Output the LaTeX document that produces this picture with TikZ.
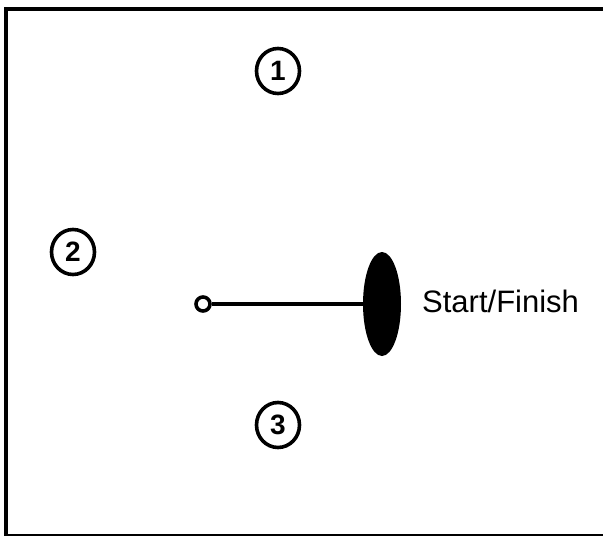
\documentclass[tikz,border=0pt]{standalone}
\usepackage{fontspec}
\setmainfont{Liberation Sans}
\usetikzlibrary{shapes.geometric}

\begin{document}
\begin{tikzpicture}[x=1pt,y=-1pt,
    station/.style={draw, ellipse, line width=3.6pt, minimum width=43pt, minimum height=45pt,
      inner sep=0pt, font=\fontsize{28}{28}\selectfont\bfseries}]
    \useasboundingbox (0,0) rectangle (603,536);
    \clip (0,0) rectangle (603,536);
    \draw[line width=4pt] (6,9) rectangle (612,536);
    \node[station] (s1) at (278,71) {1};
    \node[station] (s2) at (73,252) {2};
    \node[station] (s3) at (278,425) {3};
    \node[draw, circle, fill=white, line width=3.6pt, minimum size=14pt, inner sep=0pt] (tail) at (203,304) {};
    \node[fill, ellipse, minimum width=38pt, minimum height=104pt, inner sep=0pt] (finish) at (382,304) {};
    \draw[line width=3.6pt] (tail.east) -- (finish.west);
    \node[anchor=base west, inner sep=0pt, font=\fontsize{31}{31}\selectfont] (label) at (422,312) {Start/Finish};
\end{tikzpicture}
\end{document}
